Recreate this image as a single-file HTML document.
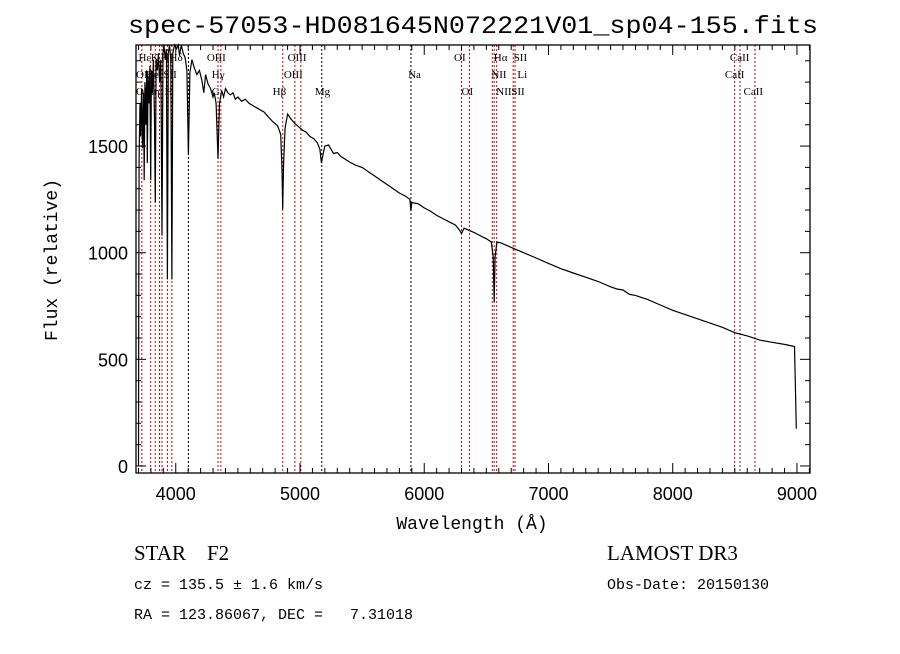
<!DOCTYPE html>
<html><head><meta charset="utf-8"><style>
body{margin:0;background:#fff;}
svg text{fill:#000;}
</style></head><body>
<svg id="chart" width="900" height="649" xmlns="http://www.w3.org/2000/svg">
<rect width="900" height="649" fill="#fff"/>
<text x="128" y="33" textLength="690" lengthAdjust="spacingAndGlyphs" font-family="Liberation Mono, monospace" font-size="25">spec-57053-HD081645N072221V01_sp04-155.fits</text>
<g id="lines"></g>
<g id="spec"></g>
<g id="axes"></g>
<g id="labels" font-family="Liberation Serif, serif" font-size="11"></g>
<text x="472" y="529" text-anchor="middle" font-family="Liberation Mono, monospace" font-size="18">Wavelength (Å)</text>
<text transform="translate(57,260) rotate(-90)" text-anchor="middle" font-family="Liberation Mono, monospace" font-size="18">Flux (relative)</text>
<text x="134" y="560" font-family="Liberation Serif, serif" font-size="21" xml:space="preserve">STAR    F2</text>
<text x="607" y="560" font-family="Liberation Serif, serif" font-size="21">LAMOST DR3</text>
<text x="134" y="589" font-family="Liberation Mono, monospace" font-size="15">cz = 135.5 ± 1.6 km/s</text>
<text x="607" y="589" font-family="Liberation Mono, monospace" font-size="15">Obs-Date: 20150130</text>
<text x="134" y="619" font-family="Liberation Mono, monospace" font-size="15" xml:space="preserve">RA = 123.86067, DEC =   7.31018</text>
</svg>
<script>
const wavelengths=[3700,3702,3705,3712,3718,3725,3732,3740,3746,3752,3760,3766,3771,3777,3785,3792,3798,3804,3812,3820,3828,3835,3842,3852,3860,3870,3880,3889,3897,3905,3915,3925,3933,3940,3950,3960,3969,3976,3990,4005,4020,4030,4045,4060,4075,4090,4102,4114,4130,4150,4170,4190,4210,4226,4240,4260,4280,4300,4310,4325,4340,4352,4370,4385,4400,4420,4440,4460,4480,4500,4530,4560,4590,4620,4650,4680,4710,4740,4780,4820,4845,4855,4861,4868,4880,4900,4930,4960,4990,5020,5050,5080,5110,5140,5160,5172,5185,5200,5230,5270,5300,5330,5360,5400,5450,5500,5550,5600,5650,5700,5750,5800,5850,5885,5893,5900,5950,6000,6050,6100,6150,6200,6250,6280,6300,6320,6400,6450,6500,6540,6555,6563,6570,6585,6620,6700,6800,6900,7000,7100,7200,7300,7400,7500,7550,7600,7650,7700,7800,7900,8000,8100,8200,8300,8400,8500,8600,8700,8800,8900,8980,8990,8995];
const fluxes=[0,620,1440,1700,1545,1770,1490,1750,1340,1800,1600,1855,1420,1830,1700,1875,1340,1855,1750,1905,1650,1235,1905,1855,1935,1800,1905,1080,1935,1975,1905,1955,875,1935,1975,1905,875,1935,1990,1955,1985,1925,1975,1935,1915,1855,1460,1845,1905,1865,1835,1855,1810,1750,1835,1790,1770,1730,1750,1700,1440,1700,1760,1730,1770,1750,1740,1750,1720,1730,1710,1720,1700,1690,1680,1670,1660,1640,1615,1595,1555,1390,1205,1420,1585,1650,1625,1605,1590,1575,1565,1545,1535,1515,1485,1420,1460,1500,1505,1465,1470,1450,1440,1425,1410,1400,1380,1360,1340,1320,1300,1280,1265,1250,1195,1235,1230,1210,1195,1175,1160,1145,1130,1110,1090,1115,1095,1080,1065,1050,980,770,980,1050,1045,1025,1000,975,950,925,905,885,865,840,830,825,805,800,780,755,730,710,690,670,650,625,610,590,580,570,560,310,175];
const lineWaves=[3727,3798,3835,3869,3889,3933,3969,4102,4340,4363,4861,4959,5007,5175,5893,6300,6364,6548,6563,6583,6716,6731,8498,8542,8662];
const lineColors=["#c00","#c00","#c00","#c00","#c00","#c00","#c00","#000","#c00","#c00","#c00","#c00","#c00","#000","#000","#c00","#c00","#c00","#c00","#c00","#c00","#c00","#c00","#c00","#c00"];
const labelTexts=["Hε","K","H","Hδ","OIII","OII","HeI","SII","Hγ","OII","Hη","H","G","Hβ","OIII","OIII","Mg","Na","OI","OI","Hα","SII","NII","Li","NII","SII","CaII","CaII","CaII"];
const labelWaves=[3700,3800,3880,3950,4250,3680,3760,3900,4290,3680,3760,3910,4290,4780,4900,4870,5120,5870,6240,6300,6560,6720,6540,6750,6580,6700,8460,8420,8570];
const labelRows=[0,0,0,0,0,1,1,1,1,2,2,2,2,2,0,1,2,1,0,2,0,0,1,1,2,2,0,1,2];
const xTicks=[4000,5000,6000,7000,8000,9000];
const yTicks=[0,500,1000,1500];

const L=136,R=810,T=45,B=473,xmin=3680,xmax=9105,ymin=-33,ymax=1974;
const X=w=>L+(w-xmin)/(xmax-xmin)*(R-L);
const Y=f=>B-(f-ymin)/(ymax-ymin)*(B-T);
const NS="http://www.w3.org/2000/svg";
function mk(t,a,p){const e=document.createElementNS(NS,t);for(const k in a)e.setAttribute(k,a[k]);p.appendChild(e);return e;}
const lines=document.getElementById('lines');
lineWaves.forEach((w,i)=>{const e=mk('line',{x1:X(w),x2:X(w),y1:T,y2:B,stroke:lineColors[i],'stroke-width':1,'stroke-dasharray':'2,2'},lines);

});
const spec=document.getElementById('spec');
let d='';wavelengths.forEach((w,i)=>{d+=(i?'L':'M')+X(w).toFixed(1)+','+Math.max(T,Math.min(B,Y(fluxes[i]))).toFixed(1);});
const p=mk('path',{d:d,fill:'none',stroke:'#000','stroke-width':1.2},spec);


const ax=document.getElementById('axes');
const fr=mk('rect',{x:L,y:T,width:R-L,height:B-T,fill:'none',stroke:'#000','stroke-width':1.3},ax);


for(let w=3700;w<=9100;w+=100){const maj=w%1000===0,len=maj?10:5;
mk('line',{x1:X(w),x2:X(w),y1:B,y2:B-len,stroke:'#000'},ax);
mk('line',{x1:X(w),x2:X(w),y1:T,y2:T+len,stroke:'#000'},ax);}
for(let f=0;f<=1900;f+=100){const maj=f%500===0,len=maj?10:5;
mk('line',{x1:L,x2:L+len,y1:Y(f),y2:Y(f),stroke:'#000'},ax);
mk('line',{x1:R,x2:R-len,y1:Y(f),y2:Y(f),stroke:'#000'},ax);}
xTicks.forEach(v=>{const t=mk('text',{x:X(v),y:500,'text-anchor':'middle','font-family':'Liberation Sans, sans-serif','font-size':18},ax);t.textContent=v;

});
yTicks.forEach(v=>{const t=mk('text',{x:L-8,y:Y(v)+7,'text-anchor':'end','font-family':'Liberation Sans, sans-serif','font-size':18},ax);t.textContent=v;

});
const lb=document.getElementById('labels');
const rowY=[61,78,95];
labelTexts.forEach((s,i)=>{const t=mk('text',{x:X(labelWaves[i]),y:rowY[labelRows[i]]},lb);t.textContent=s;

});
</script>
</body></html>
